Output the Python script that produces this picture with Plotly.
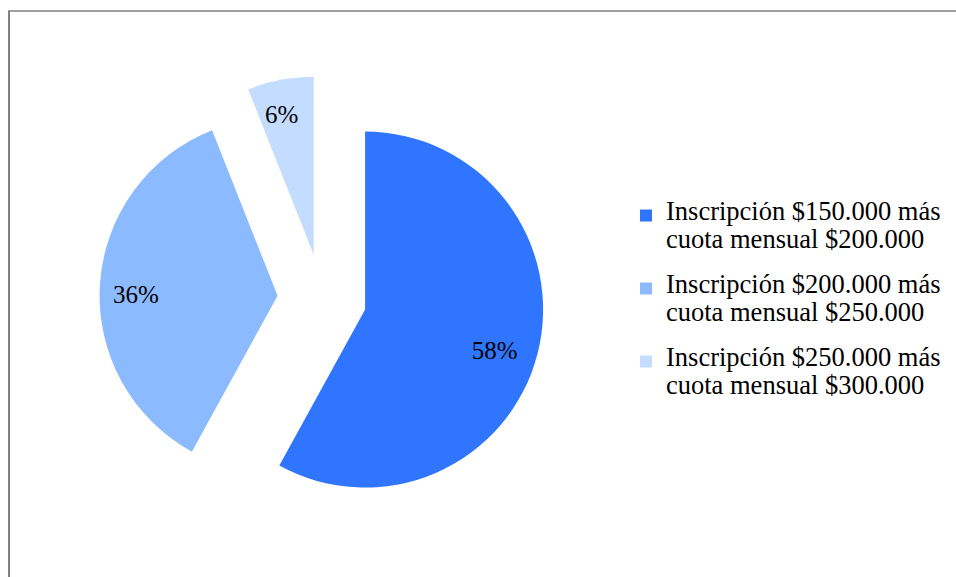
import plotly.graph_objects as go

# Data
plan_line1 = ["Inscripción $150.000 más", "Inscripción $200.000 más", "Inscripción $250.000 más"]
plan_line2 = ["cuota mensual $200.000", "cuota mensual $250.000", "cuota mensual $300.000"]
shares = [58, 36, 6]
slice_colors = ["#2F75FF", "#8BBAFF", "#C4DCFF"]

W, H = 956, 577
FONT = "Liberation Serif"

# pie placement (pixels)
CX, CY, BOX = 322, 298.5, 445
PULL = 0.25


def domain(cx, cy):
    return dict(
        x=[(cx - BOX / 2) / W, (cx + BOX / 2) / W],
        y=[1 - (cy + BOX / 2) / H, 1 - (cy - BOX / 2) / H],
    )


def legend_text(a, b):
    span = "<span style='font-size:26.5px'>{}</span>"
    return span.format(a) + "<br><br>" + span.format(b) + "<br><br>&nbsp;"


labels = [legend_text(a, b) for a, b in zip(plan_line1, plan_line2)]

fig = go.Figure()

# coloured slices
fig.add_trace(go.Pie(
    labels=labels,
    values=shares,
    sort=False,
    direction="clockwise",
    rotation=0,
    pull=[PULL] * len(shares),
    marker=dict(colors=slice_colors, line=dict(width=0)),
    textinfo="none",
    hoverinfo="label+percent",
    domain=domain(CX, CY),
    showlegend=True,
))

# percentage labels (ring layout pushes them toward the rim)
fig.add_trace(go.Pie(
    labels=labels,
    values=shares,
    sort=False,
    direction="clockwise",
    rotation=0,
    pull=[PULL] * len(shares),
    hole=0.55,
    marker=dict(colors=["rgba(0,0,0,0)"] * len(shares), line=dict(width=0)),
    texttemplate="%{percent:.0%}",
    textposition="inside",
    insidetextorientation="horizontal",
    textfont=dict(family=FONT, size=25, color="#000000"),
    hoverinfo="skip",
    domain=domain(CX - 4, CY + 7),
    showlegend=False,
))

# chart frame (left and top edges)
frame = dict(color="#808080")
fig.add_shape(type="line", xref="paper", yref="paper",
              x0=9 / W, x1=9 / W, y0=0, y1=1 - 11 / H,
              line=dict(width=2, **frame))
fig.add_shape(type="line", xref="paper", yref="paper",
              x0=8 / W, x1=1, y0=1 - 11 / H, y1=1 - 11 / H,
              line=dict(width=1.5, **frame))

fig.update_layout(
    width=W,
    height=H,
    margin=dict(l=0, r=0, t=0, b=0),
    paper_bgcolor="white",
    plot_bgcolor="white",
    font=dict(family=FONT, color="#000000"),
    legend=dict(
        x=626 / W,
        xanchor="left",
        y=1 - 316.5 / H,
        yanchor="middle",
        valign="top",
        font=dict(family=FONT, size=14 / 1.3, color="#000000"),
        bgcolor="rgba(0,0,0,0)",
        borderwidth=0,
    ),
)

fig.write_html("out.html")
